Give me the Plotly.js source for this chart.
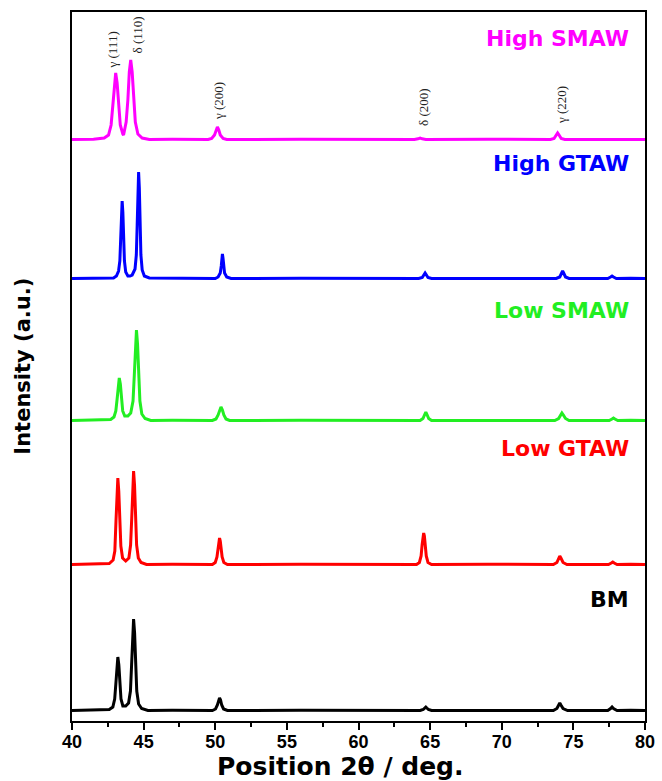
<!DOCTYPE html>
<html>
<head>
<meta charset="utf-8">
<script src="https://cdn.plot.ly/plotly-3.0.1.min.js"></script>
<style>html,body{margin:0;padding:0;background:#fff;}</style>
</head>
<body>
<div id="chart" style="width:662px;height:781px;"></div>
<script>
// Series names, colours and stacking offsets (a.u.)
const seriesNames = ["BM", "Low GTAW", "Low SMAW", "High GTAW", "High SMAW"];
const seriesColors = ["#000000", "#ff0000", "#22ee22", "#0000ff", "#ff00ff"];
const offsets = [10, 156, 300, 442, 581];

// Position 2θ (deg) and intensity (a.u., above own baseline)
const bmX = [40, 41.5, 42.6, 42.85, 42.98, 43.06, 43.13, 43.2, 43.27, 43.34, 43.42, 43.55, 43.75, 43.95, 44.08, 44.16, 44.23, 44.3, 44.37, 44.44, 44.52, 44.65, 44.86, 45.3, 47, 49.8, 50.02, 50.15, 50.23, 50.3, 50.37, 50.45, 50.58, 50.85, 56, 60, 64.3, 64.52, 64.63, 64.7, 64.77, 64.88, 65.1, 69, 73.6, 73.85, 73.97, 74.05, 74.13, 74.28, 74.6, 77.4, 77.6, 77.7, 77.8, 78.05, 79, 80];
const bmY = [0.5, 0.8, 1.5, 4, 12, 27, 46, 54, 46, 27, 12, 5, 5, 8, 20, 46, 78, 92, 78, 46, 20, 7, 2.5, 0.5, 0.8, 0.5, 2, 6, 11, 13, 11, 6, 2, 0.5, 0.8, 0.4, 0.5, 1.5, 3, 4, 3, 1.5, 0.5, 0.8, 0.5, 2.5, 6, 8, 6, 2.5, 0.5, 0.5, 2.5, 4, 2.5, 0.5, 0.8, 0.5];

const lowGtawX = [40, 41.5, 42.6, 42.87, 42.99, 43.07, 43.135, 43.2, 43.265, 43.33, 43.41, 43.53, 43.75, 43.97, 44.09, 44.17, 44.235, 44.3, 44.365, 44.43, 44.51, 44.63, 44.82, 45.2, 47, 49.8, 50.0, 50.12, 50.2, 50.25, 50.3, 50.35, 50.4, 50.48, 50.6, 50.85, 56, 60, 64.05, 64.25, 64.37, 64.44, 64.5, 64.55, 64.6, 64.66, 64.73, 64.85, 65.1, 69, 73.6, 73.85, 73.97, 74.05, 74.13, 74.28, 74.55, 77.45, 77.65, 77.75, 77.85, 78.05, 79, 80];
const lowGtawY = [0.5, 0.8, 1.5, 5, 14, 44, 74, 87, 74, 44, 19, 7, 4, 7, 20, 47, 80, 94, 80, 47, 20, 7, 2.5, 0.5, 0.8, 0.5, 2.5, 8, 17, 24, 27, 24, 17, 8, 2.5, 0.5, 0.8, 0.4, 0.5, 2.5, 9, 20, 29, 32, 29, 20, 9, 2.5, 0.5, 0.8, 0.5, 2.5, 7, 9, 7, 2.5, 0.5, 0.5, 2, 3, 2, 0.5, 0.8, 0.5];

const lowSmawX = [40, 41.5, 42.7, 42.93, 43.06, 43.15, 43.225, 43.3, 43.375, 43.45, 43.54, 43.68, 43.9, 44.1, 44.26, 44.35, 44.425, 44.5, 44.575, 44.65, 44.74, 44.875, 45.1, 45.5, 47, 49.8, 50.05, 50.2, 50.3, 50.4, 50.5, 50.6, 50.75, 51.0, 56, 60, 64.3, 64.5, 64.62, 64.7, 64.78, 64.9, 65.1, 69, 73.7, 73.97, 74.1, 74.2, 74.3, 74.45, 74.7, 77.5, 77.7, 77.8, 77.9, 78.1, 79, 80];
const lowSmawY = [0.5, 0.8, 1.5, 4, 10, 22, 37, 43, 37, 22, 10, 5, 5, 8, 20, 46, 77, 91, 77, 46, 20, 7, 2.5, 0.5, 0.8, 0.5, 2, 6, 11, 14, 11, 6, 2, 0.5, 0.8, 0.4, 0.5, 2.5, 6.5, 9, 6.5, 2.5, 0.5, 0.8, 0.5, 2.5, 6, 8, 6, 2.5, 0.5, 0.5, 2, 3, 2, 0.5, 0.8, 0.5];

const highGtawX = [40, 41.5, 42.9, 43.1, 43.25, 43.34, 43.4, 43.45, 43.5, 43.55, 43.6, 43.66, 43.75, 43.9, 44.05, 44.2, 44.4, 44.49, 44.55, 44.6, 44.65, 44.7, 44.75, 44.81, 44.9, 45.05, 45.4, 47, 50.0, 50.2, 50.35, 50.42, 50.46, 50.5, 50.54, 50.58, 50.65, 50.8, 51.1, 56, 60, 64.2, 64.45, 64.58, 64.65, 64.72, 64.85, 65.1, 69, 73.8, 74.05, 74.18, 74.25, 74.32, 74.45, 74.7, 77.4, 77.6, 77.7, 77.8, 78.0, 79, 80];
const highGtawY = [0.5, 0.8, 1, 3, 8, 18, 40, 67, 78, 67, 40, 18, 7, 3, 3, 4, 10, 24, 54, 91, 107, 91, 54, 24, 9, 3, 1, 0.8, 0.5, 2, 6, 13, 21, 25, 21, 13, 6, 2, 0.5, 0.8, 0.4, 0.5, 1.5, 4.5, 6, 4.5, 1.5, 0.5, 0.8, 0.5, 2, 6, 8, 6, 2, 0.5, 0.5, 2, 3, 2, 0.5, 0.8, 0.5];

const highSmawX = [40, 41.5, 42.25, 42.55, 42.73, 42.85, 42.95, 43.05, 43.15, 43.25, 43.37, 43.55, 43.6, 43.78, 43.9, 44.0, 44.1, 44.2, 44.3, 44.42, 44.6, 44.9, 45.4, 47, 49.5, 49.75, 49.95, 50.05, 50.15, 50.25, 50.35, 50.55, 50.8, 56, 60, 63.9, 64.15, 64.3, 64.45, 64.7, 69, 73.4, 73.65, 73.8, 73.9, 74.0, 74.15, 74.4, 79, 80];
const highSmawY = [0.5, 0.8, 2, 5, 15, 34, 57, 67, 57, 34, 15, 6, 5, 18, 40, 68, 80, 68, 40, 18, 6, 2, 0.5, 0.8, 0.5, 1.5, 5, 10, 13, 10, 5, 1.5, 0.5, 0.8, 0.4, 0.5, 1.2, 2, 1.2, 0.5, 0.8, 0.5, 1.5, 5, 7, 5, 1.5, 0.5, 0.8, 0.5];

// Peak labels
const peakLabels = ["γ (111)", "δ (110)", "γ (200)", "δ (200)", "γ (220)"];
const peakPos = [42.86, 44.6, 50.19, 64.5, 74.14];

// Axis labels
const xTickVals = [40, 45, 50, 55, 60, 65, 70, 75, 80];
const xTitle = "Position 2θ / deg.";
const yTitle = "Intensity (a.u.)";

const xs = [bmX, lowGtawX, lowSmawX, highGtawX, highSmawX];
const ys = [bmY, lowGtawY, lowSmawY, highGtawY, highSmawY];

const traces = seriesNames.map((name, i) => ({
  type: "scatter",
  mode: "lines",
  name: name,
  x: xs[i],
  y: ys[i].map(v => v + offsets[i]),
  line: {color: seriesColors[i], width: 3},
  showlegend: false,
  hoverinfo: "skip"
}));

// label heights (data units) for series names
const nameY = [122, 273, 411, 558, 683];
const peakBottomY = [651, 666, 599, 593, 595];

const boldFont = "DejaVu Sans, Arial, sans-serif";
const annotations = [];
seriesNames.forEach((name, i) => {
  annotations.push({
    text: "<b>" + name + "</b>", xref: "paper", x: 0.975, xanchor: "right",
    yref: "y", y: nameY[i], yanchor: "middle", showarrow: false,
    font: {family: boldFont, size: 22, color: seriesColors[i]}
  });
});
peakLabels.forEach((t, i) => {
  annotations.push({
    text: t, xref: "x", x: peakPos[i], xanchor: "center",
    yref: "y", y: peakBottomY[i], yanchor: "bottom", textangle: -90, showarrow: false,
    font: {family: "Liberation Serif, Times New Roman, serif", size: 13, color: "#222"}
  });
});
annotations.push({
  text: "<b>" + xTitle + "</b>", xref: "paper", x: 0.469, xanchor: "center",
  yref: "paper", y: -0.0635, yanchor: "middle", showarrow: false,
  font: {family: boldFont, size: 25, color: "#000"}
});
annotations.push({
  text: "<b>" + yTitle + "</b>", xref: "paper", x: -0.087, xanchor: "center",
  yref: "paper", y: 0.5, yanchor: "middle", textangle: -90, showarrow: false,
  font: {family: boldFont, size: 21, color: "#000"}
});

const layout = {
  width: 662, height: 781,
  margin: {l: 72, r: 17, t: 12, b: 60},
  paper_bgcolor: "#fff", plot_bgcolor: "#fff",
  showlegend: false,
  xaxis: {
    range: [40, 80], tickvals: xTickVals, ticks: "outside", ticklen: 7, tickwidth: 2,
    tickcolor: "#000", showline: true, linewidth: 2, linecolor: "#000", mirror: true,
    showgrid: false, zeroline: false, ticklabelstandoff: -4,
    tickfont: {family: "Arial, Liberation Sans, sans-serif", size: 18, color: "#000", weight: "bold"},
    minor: {dtick: 2.5, ticks: "outside", ticklen: 4, tickwidth: 2, tickcolor: "#000", showgrid: false}
  },
  yaxis: {
    range: [0, 709], showticklabels: false, ticks: "", showgrid: false, zeroline: false,
    showline: true, linewidth: 2, linecolor: "#000", mirror: true
  },
  annotations: annotations
};

Plotly.newPlot("chart", traces, layout, {staticPlot: true, displayModeBar: false});
</script>
</body>
</html>
